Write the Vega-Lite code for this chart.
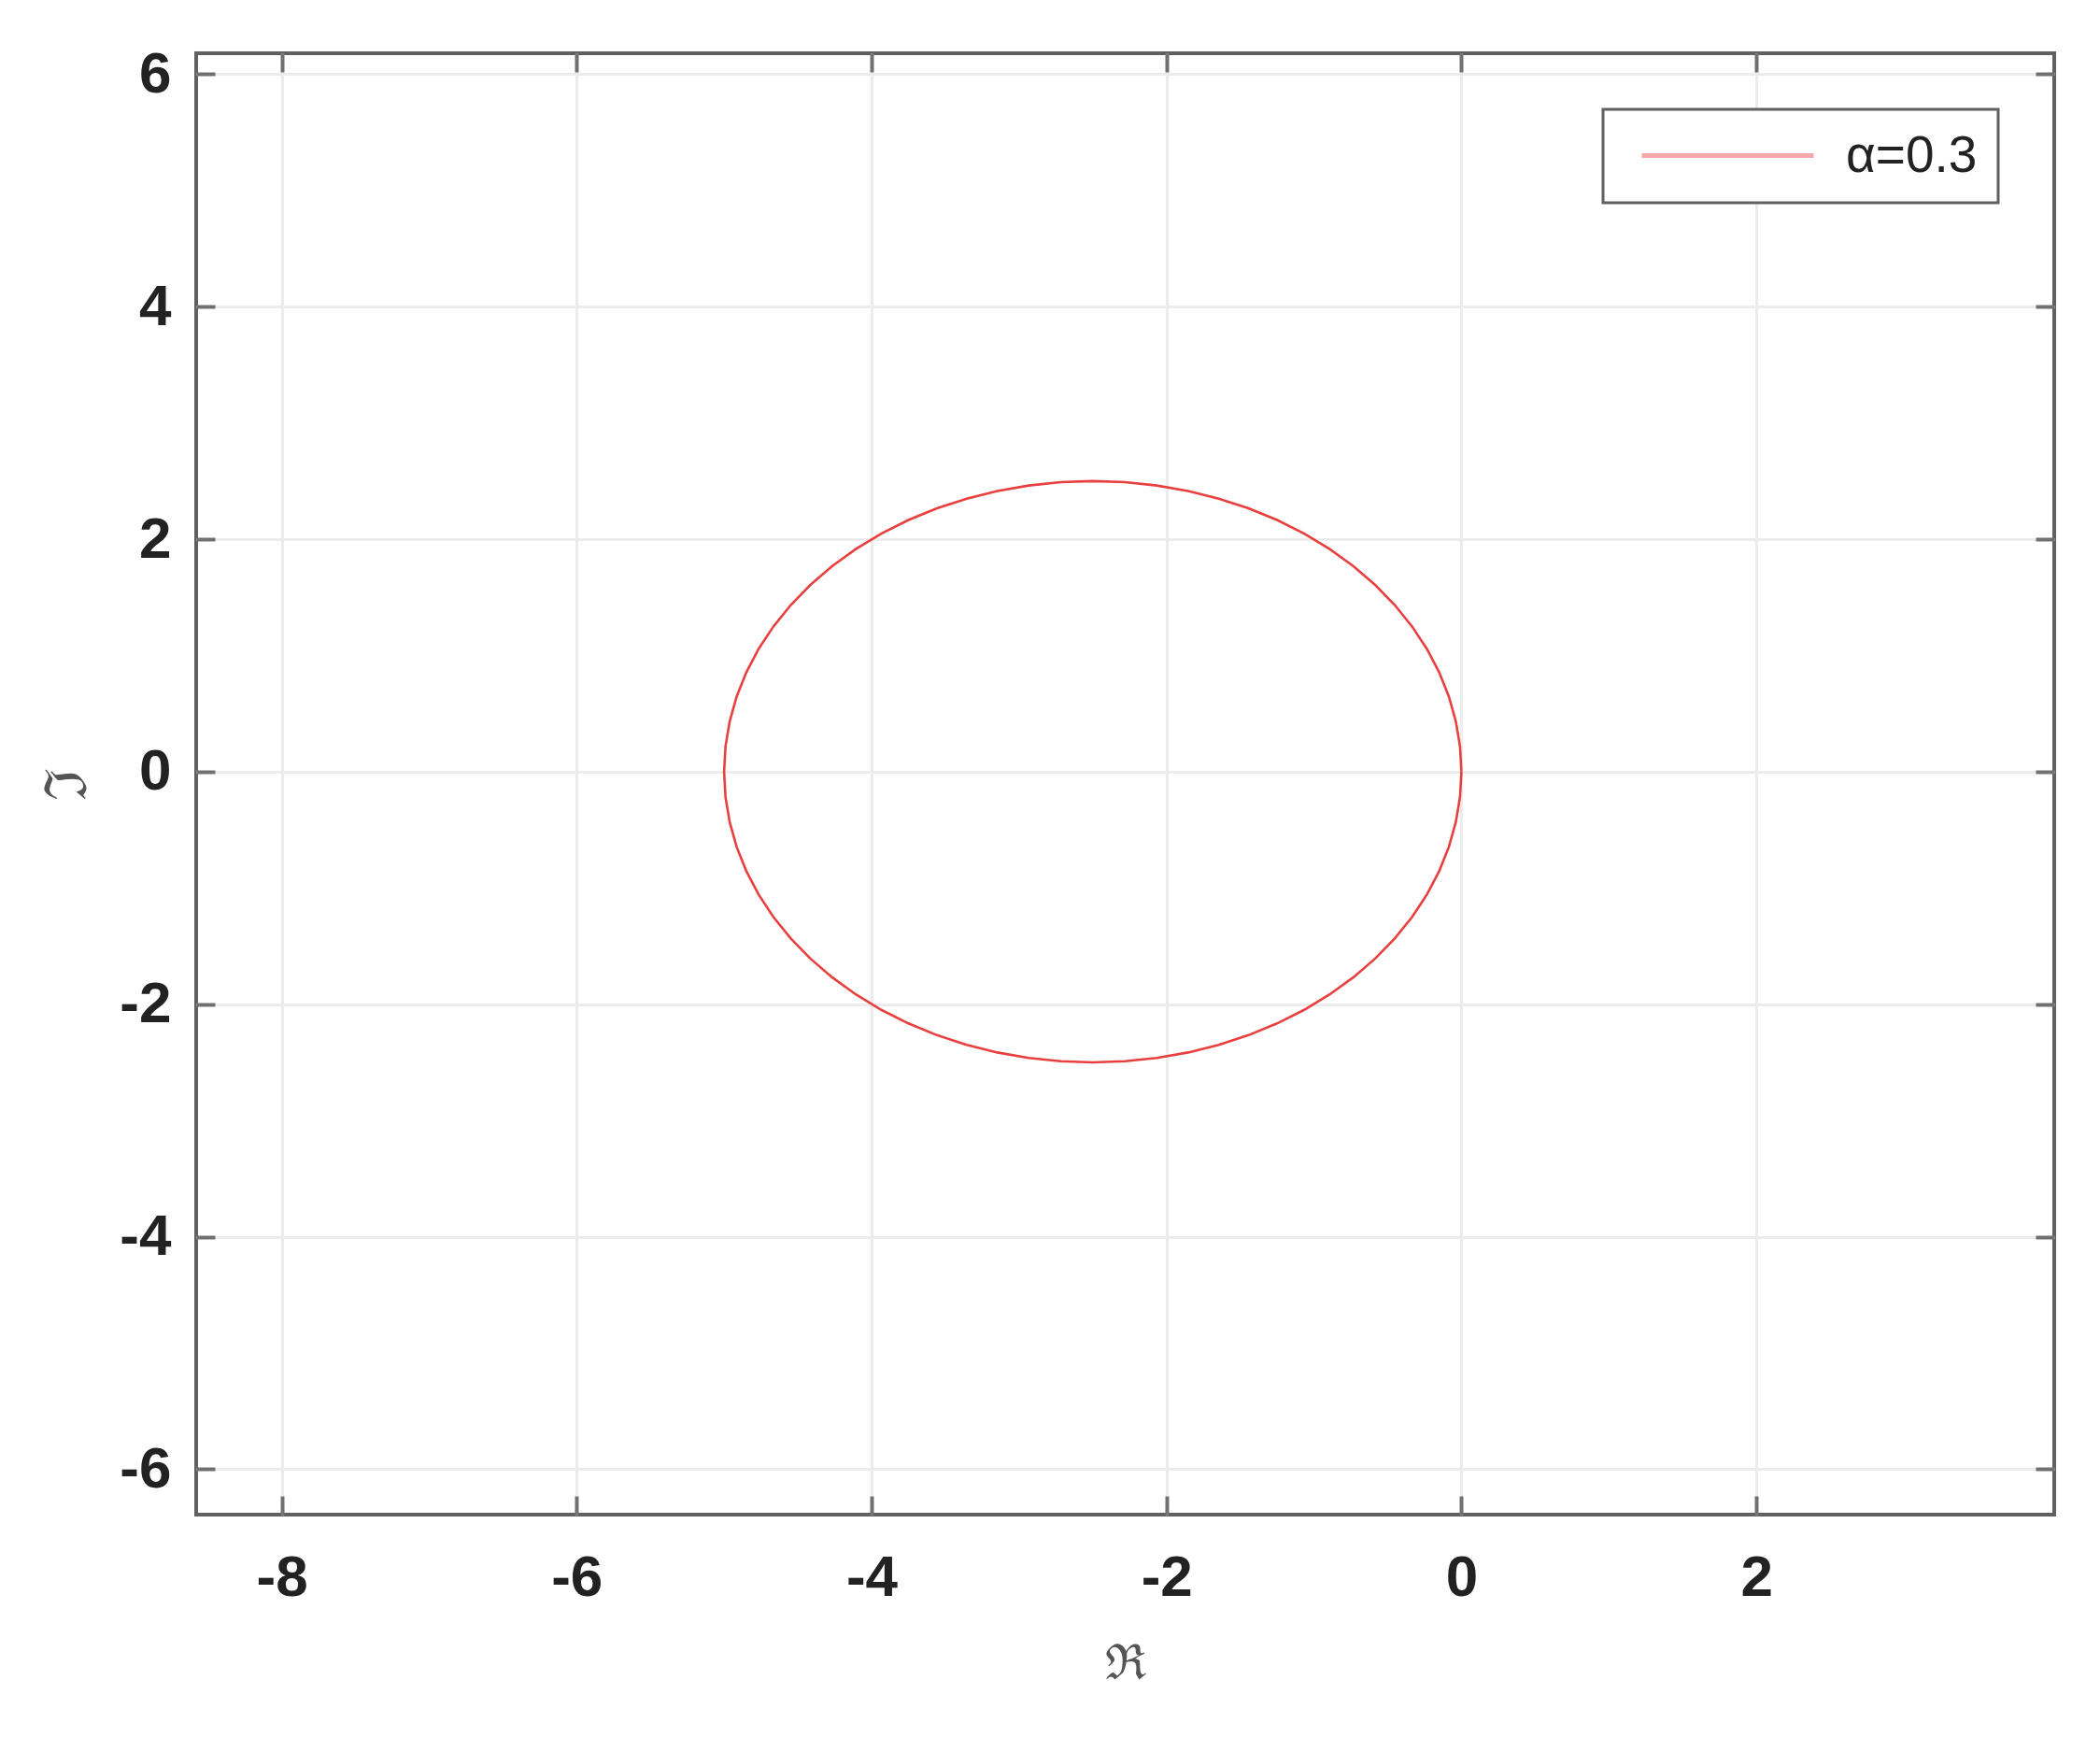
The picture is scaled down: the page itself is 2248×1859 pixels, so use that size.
{
  "$schema": "https://vega.github.io/schema/vega-lite/v6.json",
  "width": 1989,
  "height": 1564,
  "autosize": {"type": "none"},
  "padding": {"left": 210, "top": 57, "right": 49, "bottom": 238},
  "background": "white",
  "config": {
    "view": {"stroke": "#606060", "strokeWidth": 4},
    "axis": {
      "labelFont": "Liberation Sans",
      "labelFontSize": 62,
      "labelFontWeight": "bold",
      "labelColor": "#222222",
      "tickColor": "#707070",
      "tickWidth": 4,
      "tickSize": -20,
      "domain": false,
      "gridColor": "#ececec",
      "gridWidth": 3,
      "titleFont": "DejaVu Serif",
      "titleFontSize": 52,
      "titleFontWeight": "normal",
      "titleColor": "#555555"
    }
  },
  "data": {
    "values": [
      {"i": 0, "x": 0, "y": 0, "s": "alpha"},
      {"i": 1, "x": -0.0095, "y": 0.2179, "s": "alpha"},
      {"i": 2, "x": -0.038, "y": 0.4341, "s": "alpha"},
      {"i": 3, "x": -0.0852, "y": 0.647, "s": "alpha"},
      {"i": 4, "x": -0.1508, "y": 0.8551, "s": "alpha"},
      {"i": 5, "x": -0.2342, "y": 1.0566, "s": "alpha"},
      {"i": 6, "x": -0.3349, "y": 1.25, "s": "alpha"},
      {"i": 7, "x": -0.4521, "y": 1.434, "s": "alpha"},
      {"i": 8, "x": -0.5849, "y": 1.607, "s": "alpha"},
      {"i": 9, "x": -0.7322, "y": 1.7678, "s": "alpha"},
      {"i": 10, "x": -0.893, "y": 1.9151, "s": "alpha"},
      {"i": 11, "x": -1.066, "y": 2.0479, "s": "alpha"},
      {"i": 12, "x": -1.25, "y": 2.1651, "s": "alpha"},
      {"i": 13, "x": -1.4434, "y": 2.2658, "s": "alpha"},
      {"i": 14, "x": -1.6449, "y": 2.3492, "s": "alpha"},
      {"i": 15, "x": -1.853, "y": 2.4148, "s": "alpha"},
      {"i": 16, "x": -2.0659, "y": 2.462, "s": "alpha"},
      {"i": 17, "x": -2.2821, "y": 2.4905, "s": "alpha"},
      {"i": 18, "x": -2.5, "y": 2.5, "s": "alpha"},
      {"i": 19, "x": -2.7179, "y": 2.4905, "s": "alpha"},
      {"i": 20, "x": -2.9341, "y": 2.462, "s": "alpha"},
      {"i": 21, "x": -3.147, "y": 2.4148, "s": "alpha"},
      {"i": 22, "x": -3.3551, "y": 2.3492, "s": "alpha"},
      {"i": 23, "x": -3.5566, "y": 2.2658, "s": "alpha"},
      {"i": 24, "x": -3.75, "y": 2.1651, "s": "alpha"},
      {"i": 25, "x": -3.934, "y": 2.0479, "s": "alpha"},
      {"i": 26, "x": -4.107, "y": 1.9151, "s": "alpha"},
      {"i": 27, "x": -4.2678, "y": 1.7678, "s": "alpha"},
      {"i": 28, "x": -4.4151, "y": 1.607, "s": "alpha"},
      {"i": 29, "x": -4.5479, "y": 1.434, "s": "alpha"},
      {"i": 30, "x": -4.6651, "y": 1.25, "s": "alpha"},
      {"i": 31, "x": -4.7658, "y": 1.0566, "s": "alpha"},
      {"i": 32, "x": -4.8492, "y": 0.8551, "s": "alpha"},
      {"i": 33, "x": -4.9148, "y": 0.647, "s": "alpha"},
      {"i": 34, "x": -4.962, "y": 0.4341, "s": "alpha"},
      {"i": 35, "x": -4.9905, "y": 0.2179, "s": "alpha"},
      {"i": 36, "x": -5, "y": 0, "s": "alpha"},
      {"i": 37, "x": -4.9905, "y": -0.2179, "s": "alpha"},
      {"i": 38, "x": -4.962, "y": -0.4341, "s": "alpha"},
      {"i": 39, "x": -4.9148, "y": -0.647, "s": "alpha"},
      {"i": 40, "x": -4.8492, "y": -0.8551, "s": "alpha"},
      {"i": 41, "x": -4.7658, "y": -1.0566, "s": "alpha"},
      {"i": 42, "x": -4.6651, "y": -1.25, "s": "alpha"},
      {"i": 43, "x": -4.5479, "y": -1.434, "s": "alpha"},
      {"i": 44, "x": -4.4151, "y": -1.607, "s": "alpha"},
      {"i": 45, "x": -4.2678, "y": -1.7678, "s": "alpha"},
      {"i": 46, "x": -4.107, "y": -1.9151, "s": "alpha"},
      {"i": 47, "x": -3.934, "y": -2.0479, "s": "alpha"},
      {"i": 48, "x": -3.75, "y": -2.1651, "s": "alpha"},
      {"i": 49, "x": -3.5566, "y": -2.2658, "s": "alpha"},
      {"i": 50, "x": -3.3551, "y": -2.3492, "s": "alpha"},
      {"i": 51, "x": -3.147, "y": -2.4148, "s": "alpha"},
      {"i": 52, "x": -2.9341, "y": -2.462, "s": "alpha"},
      {"i": 53, "x": -2.7179, "y": -2.4905, "s": "alpha"},
      {"i": 54, "x": -2.5, "y": -2.5, "s": "alpha"},
      {"i": 55, "x": -2.2821, "y": -2.4905, "s": "alpha"},
      {"i": 56, "x": -2.0659, "y": -2.462, "s": "alpha"},
      {"i": 57, "x": -1.853, "y": -2.4148, "s": "alpha"},
      {"i": 58, "x": -1.6449, "y": -2.3492, "s": "alpha"},
      {"i": 59, "x": -1.4434, "y": -2.2658, "s": "alpha"},
      {"i": 60, "x": -1.25, "y": -2.1651, "s": "alpha"},
      {"i": 61, "x": -1.066, "y": -2.0479, "s": "alpha"},
      {"i": 62, "x": -0.893, "y": -1.9151, "s": "alpha"},
      {"i": 63, "x": -0.7322, "y": -1.7678, "s": "alpha"},
      {"i": 64, "x": -0.5849, "y": -1.607, "s": "alpha"},
      {"i": 65, "x": -0.4521, "y": -1.434, "s": "alpha"},
      {"i": 66, "x": -0.3349, "y": -1.25, "s": "alpha"},
      {"i": 67, "x": -0.2342, "y": -1.0566, "s": "alpha"},
      {"i": 68, "x": -0.1508, "y": -0.8551, "s": "alpha"},
      {"i": 69, "x": -0.0852, "y": -0.647, "s": "alpha"},
      {"i": 70, "x": -0.038, "y": -0.4341, "s": "alpha"},
      {"i": 71, "x": -0.0095, "y": -0.2179, "s": "alpha"},
      {"i": 72, "x": 0, "y": 0, "s": "alpha"}
    ]
  },
  "layer": [
    {
      "mark": {"type": "line", "strokeWidth": 2.6, "interpolate": "linear"},
      "encoding": {
        "x": {
          "field": "x", "type": "quantitative",
          "scale": {"domain": [-8.58, 4.02], "nice": false, "zero": false},
          "axis": {
            "orient": "bottom",
            "values": [-8, -6, -4, -2, 0, 2],
            "labelExpr": "'' + datum.value",
            "labelPadding": 57,
            "title": "ℜ",
            "titleX": 994,
            "titleY": 159,
            "titleAlign": "center",
            "titleBaseline": "middle"
          }
        },
        "y": {
          "field": "y", "type": "quantitative",
          "scale": {"domain": [-6.39, 6.18], "nice": false, "zero": false},
          "axis": {
            "orient": "left",
            "values": [-6, -4, -2, 0, 2, 4, 6],
            "labelExpr": "'' + datum.value",
            "labelPadding": 47,
            "title": "ℑ",
            "titleFontSize": 62,
            "titleX": -138,
            "titleY": 782,
            "titleAlign": "center",
            "titleBaseline": "middle"
          }
        },
        "order": {"field": "i", "type": "quantitative"},
        "color": {
          "field": "s", "type": "nominal",
          "scale": {"domain": ["alpha"], "range": ["#e8403f"]},
          "legend": {
            "title": null,
            "labelExpr": "'α=0.3'",
            "orient": "none",
            "legendX": 1506,
            "legendY": 60,
            "strokeColor": "#606060",
            "fillColor": "white",
            "padding": 22,
            "symbolType": "M-4,0H4",
            "symbolSize": 2116,
            "symbolStrokeWidth": 5,
            "symbolOpacity": 0.45,
            "symbolOffset": 84,
            "labelOffset": 99,
            "labelFont": "Liberation Sans",
            "labelFontSize": 55,
            "labelColor": "#222222",
            "encode": {"legend": {"update": {"strokeWidth": {"value": 3}}}}
          }
        }
      }
    },
    {
      "mark": {"type": "point", "opacity": 0},
      "encoding": {
        "x": {
          "field": "x", "type": "quantitative",
          "axis": {"orient": "top", "values": [-8, -6, -4, -2, 0, 2], "labels": false, "grid": false, "title": null}
        },
        "y": {
          "field": "y", "type": "quantitative",
          "axis": {"orient": "right", "values": [-6, -4, -2, 0, 2, 4, 6], "labels": false, "grid": false, "title": null}
        }
      }
    }
  ],
  "resolve": {"axis": {"x": "independent", "y": "independent"}}
}
